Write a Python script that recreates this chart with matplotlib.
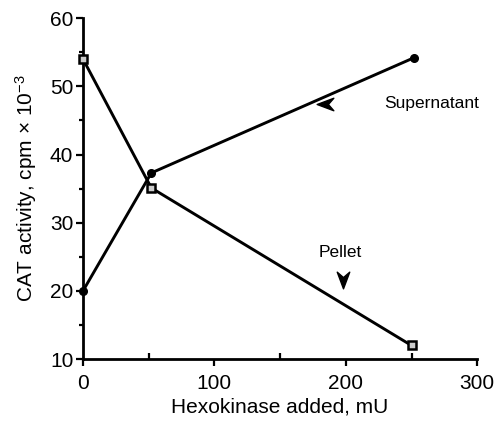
import matplotlib
matplotlib.use('Agg')
import matplotlib.pyplot as plt
from matplotlib.path import Path
from matplotlib.ticker import MultipleLocator

plt.rcParams['font.family'] = ['Liberation Sans', 'DejaVu Sans']
plt.rcParams['mathtext.fontset'] = 'custom'
plt.rcParams['mathtext.rm'] = 'Liberation Sans'
plt.rcParams['mathtext.it'] = 'Liberation Sans'

# values
super_x = [0, 52, 252]
super_y = [20, 37.3, 54.2]
pellet_x = [0, 52, 250]
pellet_y = [54, 35.1, 12]

fig = plt.figure(figsize=(4.94, 4.21), dpi=100)
ax = fig.add_axes([0.168, 0.147, 0.798, 0.81])

ax.plot(super_x, super_y, color='black', lw=2.1, marker='o', ms=5.5,
        clip_on=False, zorder=3)
ax.plot(pellet_x, pellet_y, color='black', lw=2.1, marker='s', ms=5.5,
        mfc='#cccccc', mec='black', mew=1.8, clip_on=False, zorder=3)

# chevron arrowheads next to labels
chev_left = Path([(-1, 0), (1, 0.75), (0.35, 0), (1, -0.75), (-1, 0)],
                 [Path.MOVETO, Path.LINETO, Path.LINETO, Path.LINETO, Path.CLOSEPOLY])
chev_down = Path([(0, -1), (0.75, 1), (0, 0.35), (-0.75, 1), (0, -1)],
                 [Path.MOVETO, Path.LINETO, Path.LINETO, Path.LINETO, Path.CLOSEPOLY])
ax.plot([184], [47.4], marker=chev_left, ms=12, color='black', ls='none')
ax.plot([198], [21.6], marker=chev_down, ms=12, color='black', ls='none')
ax.text(229, 47.5, 'Supernatant', fontsize=12.5, va='center', ha='left')
ax.text(196, 25.6, 'Pellet', fontsize=12.5, va='center', ha='center')

ax.set_xlim(0, 300)
ax.set_ylim(10, 60)
ax.set_xticks([0, 100, 200, 300])
ax.set_yticks([10, 20, 30, 40, 50, 60])
ax.xaxis.set_minor_locator(MultipleLocator(50))
ax.yaxis.set_minor_locator(MultipleLocator(5))

for s in ['top', 'right']:
    ax.spines[s].set_visible(False)
for s in ['left', 'bottom']:
    ax.spines[s].set_linewidth(2.0)

ax.tick_params(which='major', direction='out', length=5, width=1.6, labelsize=15)
ax.tick_params(axis='x', which='major', pad=6)
ax.tick_params(axis='y', which='major', pad=2)
ax.tick_params(axis='x', which='minor', direction='in', length=4, width=1.6)
ax.tick_params(axis='y', which='minor', direction='out', length=3, width=1.6)

ax.set_xlabel('Hexokinase added, mU', fontsize=15, labelpad=3)
ax.set_ylabel(r'CAT activity, cpm $\times$ 10$^{-3}$', fontsize=15, labelpad=8)

fig.savefig('out.png', dpi=100)
